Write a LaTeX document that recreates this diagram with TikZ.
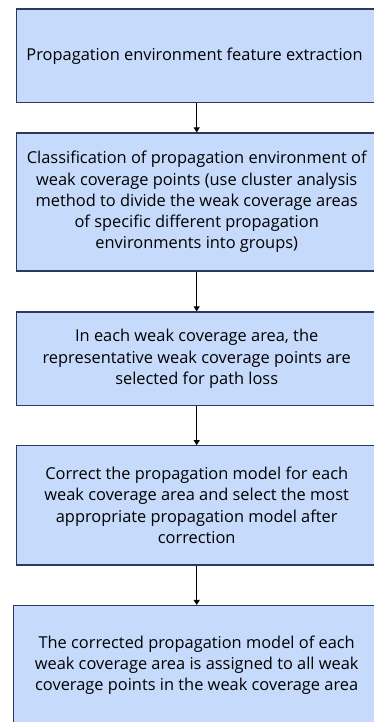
\documentclass[tikz,border=0pt]{standalone}
\usepackage{fontspec}
\setmainfont{Open Sans}
\usepackage{xcolor}
\usetikzlibrary{arrows.meta, positioning}
\definecolor{boxfill}{HTML}{C6DBFB}
\definecolor{boxline}{HTML}{2E3A5C}

\begin{document}
\begin{tikzpicture}[x=1pt, y=1pt,
  stepbox/.style={draw=boxline, fill=boxfill, line width=1.2pt, align=center, font=\fontsize{16.4}{21.3}\selectfont, inner sep=0pt},
  flow/.style={-{Triangle[length=5pt, width=6pt]}, line width=0.9pt, black},
]
\useasboundingbox (0,0) rectangle (374,-722);
% Feature extraction
\node[stepbox, minimum width=361, minimum height=93.5] (extract) at (196.7,-55.7) {
  Propagation environment feature extraction
};
% Classification
\node[stepbox, minimum width=361, minimum height=138] (classify) at (196.7,-202) {
  Classification of propagation environment of\\
  weak coverage points (use cluster analysis\\
  method to divide the weak coverage areas\\
  of specific different propagation\\
  environments into groups)
};
% Representative points
\node[stepbox, minimum width=361, minimum height=93.7] (select) at (196.7,-358.8) {
  In each weak coverage area, the\\
  representative weak coverage points are\\
  selected for path loss
};
% Model correction
\node[stepbox, minimum width=361, minimum height=119.3] (correct) at (196.7,-505.4) {
  Correct the propagation model for each\\
  weak coverage area and select the most\\
  appropriate propagation model after\\
  correction
};
% Assignment
\node[stepbox, minimum width=366.5, minimum height=119] (assign) at (196.7,-665) {
  The corrected propagation model of each\\
  weak coverage area is assigned to all weak\\
  coverage points in the weak coverage area
};

% Flow
\draw[flow] (extract.south) -- (classify.north);
\draw[flow] (classify.south) -- (select.north);
\draw[flow] (select.south) -- (correct.north);
\draw[flow] (correct.south) -- (assign.north);
\end{tikzpicture}
\end{document}
